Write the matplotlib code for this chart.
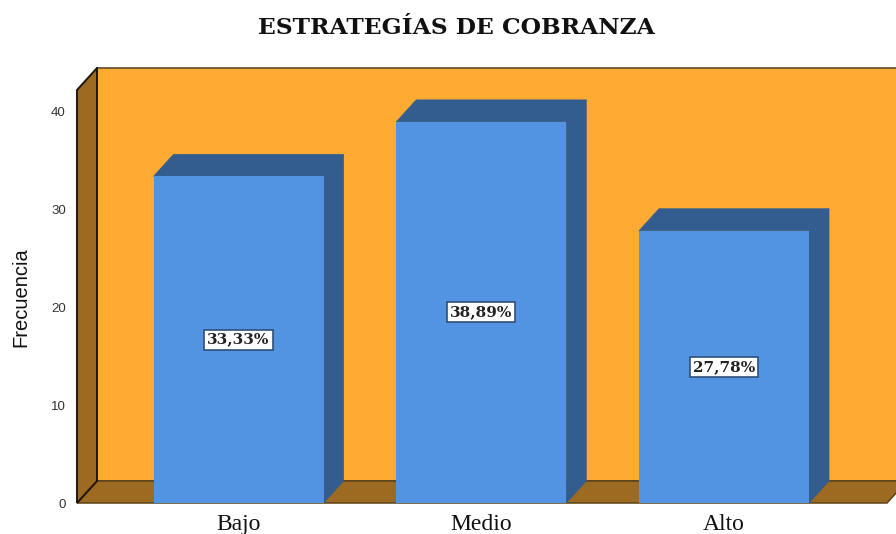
import matplotlib
matplotlib.use("Agg")
import matplotlib.pyplot as plt
from matplotlib.patches import Polygon

categories = ["Bajo", "Medio", "Alto"]
values = [33.33, 38.89, 27.78]
labels = ["33,33%", "38,89%", "27,78%"]
y_ticks = [0, 10, 20, 30, 40]

W, H = 896, 534
fig = plt.figure(figsize=(W / 100, H / 100), dpi=100)

# front plane of the box, in pixels of the picture
left, right, bottom, top = 77, 887, 503, 90
ax = fig.add_axes([left / W, 1 - bottom / H, (right - left) / W, (bottom - top) / H])

unit_x = 242.75          # pixels between two categories
unit_y = 9.8             # pixels per value
ax.set_xlim((left - 238.5) / unit_x, (right - 238.5) / unit_x)
ax.set_ylim(0, (bottom - top) / unit_y)

# depth of the 3d effect in data units
dx = 20 / unit_x
dy = 22 / unit_y
x0, x1 = ax.get_xlim()
y1 = ax.get_ylim()[1]

wall = "#FFAA33"
wall_dark = "#9C6A20"
edge = "#1E1608"
ax.add_patch(Polygon([(x0 + dx, dy), (x1 + dx, dy), (x1 + dx, y1 + dy), (x0 + dx, y1 + dy)],
                     fc=wall, ec="#5C4A2A", lw=1.2, clip_on=False, zorder=1))
ax.plot([x0 + dx, x0 + dx], [dy, y1 + dy], color=edge, lw=1.3, clip_on=False, zorder=2)
ax.add_patch(Polygon([(x0, 0), (x1, 0), (x1 + dx, dy), (x0 + dx, dy)],
                     fc=wall_dark, ec="#5C4218", lw=1.1, clip_on=False, zorder=2))
ax.add_patch(Polygon([(x0, 0), (x0 + dx, dy), (x0 + dx, y1 + dy), (x0, y1)],
                     fc=wall_dark, ec=edge, lw=1.4, clip_on=False, zorder=2))

bar_w = 170 / unit_x
front = "#5294E2"
dark = "#335C8F"
xs = range(len(categories))
ax.bar(xs, values, width=bar_w, color=front, linewidth=0, zorder=4)
for x, v, lab in zip(xs, values, labels):
    l, r = x - bar_w / 2, x + bar_w / 2
    ax.add_patch(Polygon([(l, v), (r, v), (r + dx, v + dy), (l + dx, v + dy)],
                         fc=dark, ec=dark, lw=0.5, clip_on=False, zorder=3))
    ax.add_patch(Polygon([(r, 0), (r + dx, dy), (r + dx, v + dy), (r, v)],
                         fc=dark, ec=dark, lw=0.5, clip_on=False, zorder=3))
    ax.text(x, v / 2, lab, ha="center", va="center", fontsize=11, fontweight="bold",
            family="DejaVu Serif", color="#222222", zorder=6,
            bbox=dict(boxstyle="square,pad=0.2", fc="white", ec="#2F4F7A", lw=1.2))

for s in ax.spines.values():
    s.set_visible(False)
ax.patch.set_visible(False)

ax.set_yticks(y_ticks)
ax.tick_params(axis="y", length=0, pad=8, labelsize=9.5, labelcolor="#333333")
for t in ax.get_yticklabels():
    t.set_family("Liberation Sans")

ax.set_xticks(list(xs))
ax.set_xticklabels(categories, family="Liberation Serif", fontsize=17, color="#111111")
ax.tick_params(axis="x", length=0, pad=8)

fig.text(21 / W, 1 - 297 / H, "Frecuencia", rotation=90, ha="center", va="center",
         family="Liberation Sans", fontsize=14.5, color="#111111")
fig.text(456 / W, 1 - 28 / H, "ESTRATEGÍAS DE COBRANZA", ha="center", va="center",
         family="DejaVu Serif", fontweight="bold", fontsize=16.8, color="#111111")

fig.savefig("out.png", dpi=100)
